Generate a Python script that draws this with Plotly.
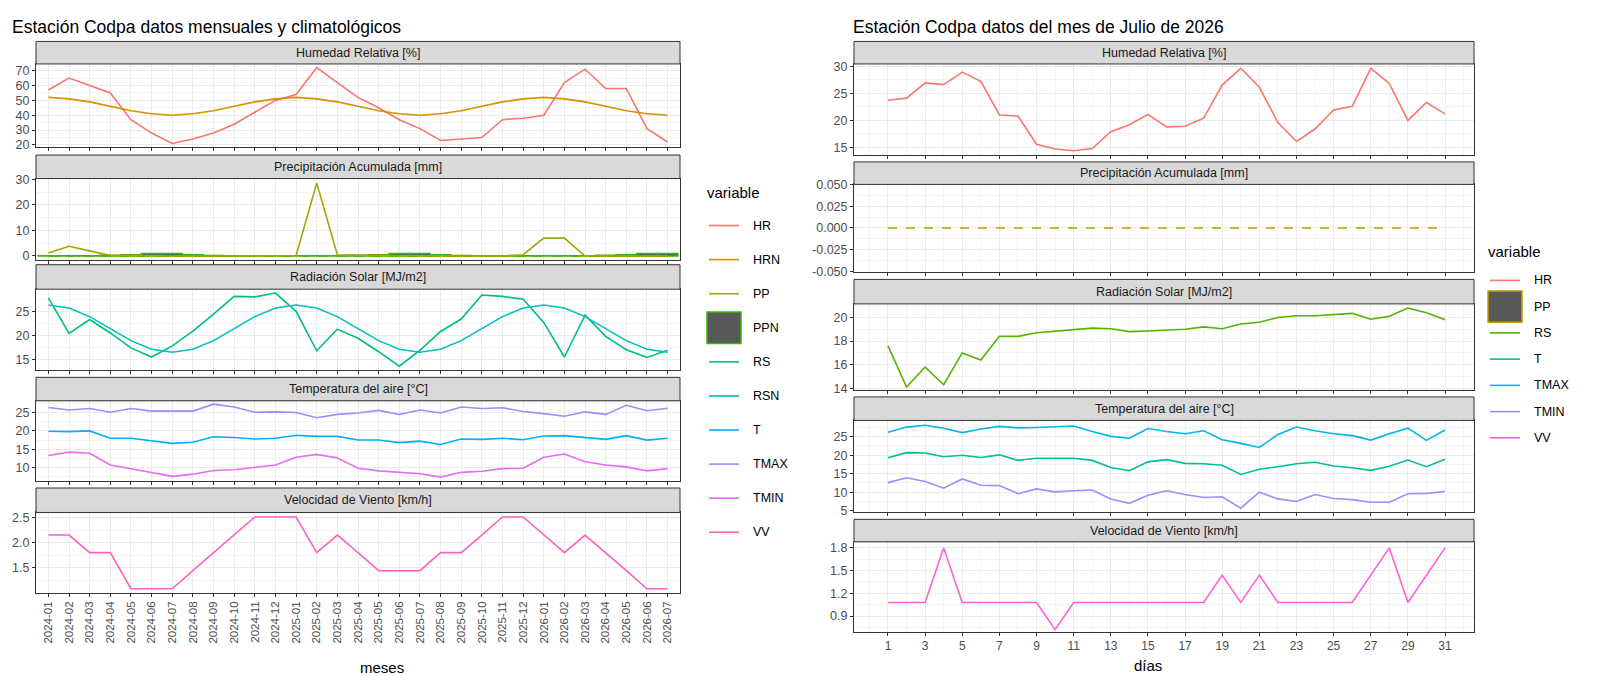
import plotly.graph_objects as go

W, H = 1600, 676
FONT = "Liberation Sans"

meses = ["2024-01","2024-02","2024-03","2024-04","2024-05","2024-06","2024-07","2024-08","2024-09","2024-10","2024-11","2024-12",
         "2025-01","2025-02","2025-03","2025-04","2025-05","2025-06","2025-07","2025-08","2025-09","2025-10","2025-11","2025-12",
         "2026-01","2026-02","2026-03","2026-04","2026-05","2026-06","2026-07"]
HR_m = [57,65,60,55,37,28,21,24,28,34,42,50,54,72,62,52,45,37,31,23,24,25,37,38,40,62,71,58,58,31,22]
HRN_m = [52,51,49,46,43,41,40,41,43,46,49,51,52,51,49,46,43,41,40,41,43,46,49,51,52,51,49,46,43,41,40]
PP_m = [1.2,3.8,2,0.2,0.3,0.1,0,0,0,0,0,0,0.2,28.5,0.5,0.3,0.2,0.2,0.1,0,0,0,0,0.5,7,7,0,0,0,0,0]
PPN_clim = [0.1,0.1,0.1,0.3,0.5,1.0,1.0,0.5,0.2,0.1,0.1,0.1]
RS_m = [27.8,20.4,23.3,20.5,17.4,15.5,17.8,20.9,24.4,28.1,28.0,28.8,25,16.8,21.3,19.4,16.6,13.6,16.9,20.8,23.4,28.4,28.1,27.5,22.7,15.5,24.2,19.8,17,15.4,16.9]
RSN_clim = [26.3,25.7,23.9,21.4,18.9,17.1,16.5,17.1,18.9,21.4,23.9,25.7]
TMAX_m = [26.4,25.7,26.1,25.1,26.1,25.4,25.4,25.4,27.3,26.5,25.1,25.2,25.0,23.6,24.5,24.9,25.6,24.5,25.7,24.9,26.5,26.1,26.3,25.3,24.7,24.0,25.2,24.5,27.0,25.5,26.2]
T_m = [19.9,19.8,20.0,18.0,18.0,17.2,16.6,16.9,18.4,18.2,17.8,18.0,18.8,18.5,18.5,17.5,17.5,16.8,17.2,16.3,17.8,17.7,18.0,17.6,18.6,18.7,18.3,17.7,18.7,17.5,18.0]
TMIN_m = [13.3,14.2,13.9,10.7,9.7,8.7,7.6,8.2,9.2,9.4,10.1,10.7,12.8,13.6,12.6,9.8,9.1,8.7,8.3,7.4,8.7,9.0,9.7,9.8,12.8,13.7,11.6,10.7,10.2,9.1,9.7]
VV_m = [2.15,2.15,1.8,1.8,1.08,1.08,1.08,1.44,1.8,2.15,2.51,2.51,2.51,1.8,2.15,1.8,1.44,1.44,1.44,1.8,1.8,2.15,2.51,2.51,2.15,1.8,2.15,1.8,1.44,1.08,1.08]

dias = list(range(1, 32))
HR_d = [23.7,24.1,26.9,26.6,28.9,27.2,21.0,20.8,15.6,14.7,14.4,14.8,17.9,19.2,21.1,18.8,18.9,20.4,26.5,29.6,26.1,19.6,16.1,18.4,21.9,22.6,29.6,26.8,20.0,23.3,21.2]
PP_d = [0]*31
RS_d = [17.6,14.1,15.8,14.3,17.0,16.4,18.4,18.4,18.7,18.85,19.0,19.1,19.05,18.8,18.85,18.95,19.0,19.2,19.05,19.45,19.6,20.0,20.15,20.15,20.25,20.35,19.85,20.1,20.8,20.4,19.8]
TMAX_d = [26.2,27.6,28.1,27.3,26.1,27.1,27.8,27.4,27.5,27.6,27.9,26.4,25.1,24.6,27.2,26.4,25.8,26.6,24.2,23.2,22.1,25.6,27.6,26.6,25.8,25.3,24.1,25.8,27.3,24.0,26.8]
T_d = [19.3,20.7,20.6,19.6,20.0,19.4,20.1,18.6,19.2,19.1,19.2,18.6,16.7,15.8,18.2,18.8,17.8,17.7,17.3,14.8,16.2,16.9,17.7,18.1,17.1,16.6,15.9,17.0,18.7,16.9,18.9]
TMIN_d = [12.6,13.9,12.9,11.1,13.6,11.9,11.8,9.6,10.9,10.1,10.4,10.6,8.2,7.0,9.2,10.4,9.4,8.6,8.8,5.7,10.0,8.2,7.5,9.4,8.3,8.0,7.3,7.3,9.6,9.7,10.2]
VV_d = [1.08,1.08,1.08,1.8,1.08,1.08,1.08,1.08,1.08,0.72,1.08,1.08,1.08,1.08,1.08,1.08,1.08,1.08,1.44,1.08,1.44,1.08,1.08,1.08,1.08,1.08,1.44,1.8,1.08,1.44,1.8]

strips = ["Humedad Relativa [%]", "Precipitación Acumulada [mm]", "Radiación Solar [MJ/m2]",
          "Temperatura del aire [°C]", "Velocidad de Viento [km/h]"]

CL = {"HR":"#F8766D","HRN":"#D89000","PP":"#A3A500","PPN":"#39B600","RS":"#00BF7D","RSN":"#00BFC4",
      "T":"#00B0F6","TMAX":"#9590FF","TMIN":"#E76BF3","VV":"#FF62BC"}
CR = {"HR":"#F8766D","PP":"#C49A00","RS":"#53B400","T":"#00C094","TMAX":"#00B6EB","TMIN":"#A58AFF","VV":"#FB61D7"}

xl = list(range(len(meses)))
ppn = [PPN_clim[int(m[5:])-1] for m in meses]
rsn = [RSN_clim[int(m[5:])-1] for m in meses]

def px(x): return x / W
def py(y): return 1 - y / H

left_rows = [(27,50,135),(143,167,250),(255,280,362),(370,394,476),(483,508,590)]
right_rows = [(27,50,143),(150,173,262),(270,295,383),(390,414,507),(515,538,630)]
LX = (28, 672)
RX = (846, 1466)

left_y = [dict(range=[18.5,74.5], tickvals=[20,30,40,50,60,70], dtick=10),
          dict(range=[-1.5,30.3], tickvals=[0,10,20,30], dtick=10),
          dict(range=[12.9,29.6], tickvals=[15,20,25], dtick=5),
          dict(range=[6.3,28.2], tickvals=[10,15,20,25], dtick=5),
          dict(range=[1.0,2.6], tickvals=[1.5,2.0,2.5], ticktext=["1.5","2.0","2.5"], dtick=0.5)]
right_y = [dict(range=[13.6,30.4], tickvals=[15,20,25,30], dtick=5),
           dict(range=[-0.05,0.05], tickvals=[-0.05,-0.025,0,0.025,0.05], ticktext=["-0.050","-0.025","0.000","0.025","0.050"], dtick=0.025),
           dict(range=[13.85,21.15], tickvals=[14,16,18,20], dtick=2),
           dict(range=[4.8,29.4], tickvals=[5,10,15,20,25], dtick=5),
           dict(range=[0.69,1.88], tickvals=[0.9,1.2,1.5,1.8], dtick=0.3)]

left_traces = [[("HR",HR_m,"solid"),("HRN",HRN_m,"solid")],
               [("PP",PP_m,"solid")],
               [("RS",RS_m,"solid"),("RSN",rsn,"solid")],
               [("T",T_m,"solid"),("TMAX",TMAX_m,"solid"),("TMIN",TMIN_m,"solid")],
               [("VV",VV_m,"solid")]]
right_traces = [[("HR",HR_d,"solid")],
                [("PP",PP_d,"dash")],
                [("RS",RS_d,"solid")],
                [("T",T_d,"solid"),("TMAX",TMAX_d,"solid"),("TMIN",TMIN_d,"solid")],
                [("VV",VV_d,"solid")]]

fig = go.Figure()
layout = dict(width=W, height=H, margin=dict(l=0,r=0,t=0,b=0), plot_bgcolor="white", paper_bgcolor="white",
              showlegend=False, font=dict(family=FONT, color="#4D4D4D", size=12))
shapes, annos = [], []
GRID = "#EBEBEB"
idx = 0
for side in ("L","R"):
    rows = left_rows if side=="L" else right_rows
    XR = LX if side=="L" else RX
    for i, (st, pt, pb) in enumerate(rows):
        idx += 1
        xa = "xaxis" if idx==1 else f"xaxis{idx}"
        ya = "yaxis" if idx==1 else f"yaxis{idx}"
        xr = "x" if idx==1 else f"x{idx}"
        yr = "y" if idx==1 else f"y{idx}"
        bottom = (i == 4)
        if side=="L":
            xaxis = dict(range=[-0.6,30.6], tickvals=xl, ticktext=meses, showticklabels=bottom, tickangle=-90,
                         minor=dict(showgrid=False), tickfont=dict(size=11.5, color="#4D4D4D"))
        else:
            xaxis = dict(range=[-0.83,32.56], tickvals=list(range(1,32,2)), showticklabels=bottom,
                         minor=dict(tickvals=list(range(0,33,2)), showgrid=True, gridcolor="#F4F4F4", gridwidth=0.6, ticks=""),
                         tickfont=dict(size=12, color="#4D4D4D"))
        xaxis.update(domain=[px(XR[0]),px(XR[1])], anchor=yr, showgrid=True, gridcolor=GRID, gridwidth=1.1,
                     showline=True, mirror=True, linecolor="#333333", linewidth=1, ticks="outside", ticklen=3,
                     tickcolor="#333333", zeroline=False, fixedrange=True)
        ydef = (left_y if side=="L" else right_y)[i]
        yaxis = dict(domain=[py(pb),py(pt)], anchor=xr, range=ydef["range"], tickvals=ydef["tickvals"],
                     showgrid=True, gridcolor=GRID, gridwidth=1.1,
                     minor=dict(dtick=ydef["dtick"]/2, tick0=0, showgrid=True, gridcolor="#F4F4F4", gridwidth=0.6),
                     showline=True, mirror=True, linecolor="#333333", linewidth=1, ticks="outside", ticklen=3,
                     tickcolor="#333333", zeroline=False, tickfont=dict(size=12.5, color="#4D4D4D"), fixedrange=True)
        if "ticktext" in ydef: yaxis["ticktext"] = ydef["ticktext"]
        layout[xa] = xaxis; layout[ya] = yaxis
        shapes.append(dict(type="rect", xref="paper", yref="paper", x0=px(XR[0]), x1=px(XR[1]), y0=py(pt), y1=py(st),
                           fillcolor="#D9D9D9", line=dict(color="#333333", width=1), layer="above"))
        annos.append(dict(text=strips[i], xref="paper", yref="paper", x=px((XR[0]+XR[1])/2), y=py((st+pt)/2),
                          showarrow=False, font=dict(size=12.5, color="#1A1A1A"), xanchor="center", yanchor="middle"))
        xs = xl if side=="L" else dias
        cmap = CL if side=="L" else CR
        if side=="L" and i==1:
            fig.add_trace(go.Bar(x=xl, y=ppn, width=1.0, marker=dict(color="#595959", line=dict(color=CL["PPN"], width=1.5)),
                                 xaxis=xr, yaxis=yr))
            fig.add_trace(go.Scatter(x=xl, y=[0]*len(xl), mode="lines", line=dict(color=CL["PPN"], width=1.5, dash="dash"),
                                     xaxis=xr, yaxis=yr))
        for name, vals, dash in (left_traces if side=="L" else right_traces)[i]:
            fig.add_trace(go.Scatter(x=xs, y=vals, mode="lines", line=dict(color=cmap[name], width=1.6, dash=dash),
                                     xaxis=xr, yaxis=yr))

annos.append(dict(text="Estación Codpa datos mensuales y climatológicos", xref="paper", yref="paper", x=px(2), y=py(12),
                  xanchor="left", yanchor="middle", showarrow=False, font=dict(size=17.5, color="black")))
annos.append(dict(text="Estación Codpa datos del mes de Julio de 2026", xref="paper", yref="paper", x=px(843), y=py(12),
                  xanchor="left", yanchor="middle", showarrow=False, font=dict(size=17.5, color="black")))
annos.append(dict(text="meses", xref="paper", yref="paper", x=px((LX[0]+LX[1])/2), y=py(666), showarrow=False,
                  yanchor="middle", font=dict(size=15, color="black")))
annos.append(dict(text="días", xref="paper", yref="paper", x=px((RX[0]+RX[1])/2), y=py(664), showarrow=False,
                  yanchor="middle", font=dict(size=15, color="black")))

def legend(x0, ytitle, y0, step, names, cmap, boxname, boxline):
    annos.append(dict(text="variable", xref="paper", yref="paper", x=px(x0), y=py(ytitle), xanchor="left",
                      yanchor="middle", showarrow=False, font=dict(size=15, color="black")))
    for k, n in enumerate(names):
        yc = y0 + k*step
        if n == boxname:
            shapes.append(dict(type="rect", xref="paper", yref="paper", x0=px(x0+2), x1=px(x0+36), y0=py(yc+16), y1=py(yc-16),
                               fillcolor="#595959", line=dict(color=boxline, width=1.5)))
        else:
            shapes.append(dict(type="line", xref="paper", yref="paper", x0=px(x0+4), x1=px(x0+34), y0=py(yc), y1=py(yc),
                               line=dict(color=cmap[n], width=1.6)))
        annos.append(dict(text=n, xref="paper", yref="paper", x=px(x0+46), y=py(yc), xanchor="left", yanchor="middle",
                          showarrow=False, font=dict(size=12.5, color="black")))

legend(697, 181, 215, 34.8, ["HR","HRN","PP","PPN","RS","RSN","T","TMAX","TMIN","VV"], CL, "PPN", CL["PPN"])
legend(1478, 241, 271, 26.8, ["HR","PP","RS","T","TMAX","TMIN","VV"], CR, "PP", CR["PP"])

layout["shapes"] = shapes
layout["annotations"] = annos
fig.update_layout(**layout)
fig.write_html("out.html")
